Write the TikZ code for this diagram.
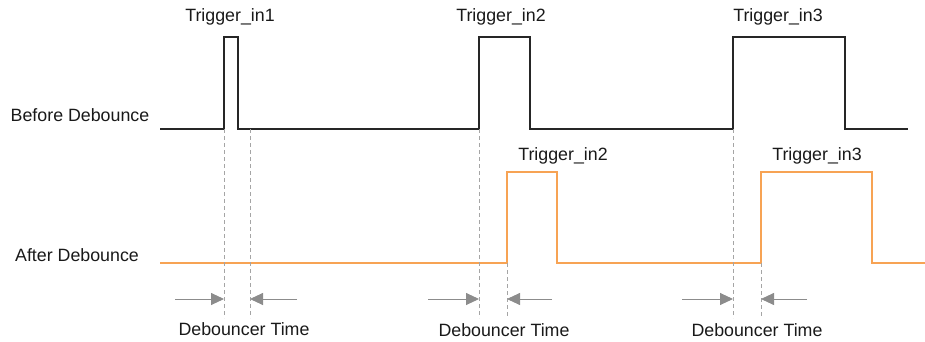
\documentclass[tikz,border=0pt]{standalone}
\usepackage{fontspec}
\setmainfont{Liberation Sans}
\usepackage{tikz}
\usetikzlibrary{arrows.meta, positioning, calc}
\definecolor{waveorange}{RGB}{247, 163, 84}
\definecolor{guidegray}{RGB}{165, 165, 165}
\definecolor{arrowgray}{RGB}{140, 140, 140}

\begin{document}
\begin{tikzpicture}[
			x=1pt, y=-1pt,
			label/.style={inner sep=0pt, font=\fontsize{17.8}{20}\selectfont, text=black!90},
			before/.style={line width=1.1pt, black!85},
			after/.style={line width=1.3pt, waveorange},
			guide/.style={dash pattern=on 4pt off 3pt, guidegray, line width=0.9pt},
			arrow/.style={-{Triangle[length=13pt, width=12pt]}, arrowgray, line width=0.9pt}
		]
		\useasboundingbox (0,0) rectangle (925,342);
		
		% Signal names
		\node[label] (before) at (80,115) {Before Debounce};
		\node[label] (after) at (77,255) {After Debounce};
		
		% Before debounce waveform
		\coordinate (b0) at (160,129);
		\coordinate (r1) at (224,129);
		\coordinate (f1) at (238,129);
		\coordinate (r2) at (479,129);
		\coordinate (f2) at (530,129);
		\coordinate (r3) at (733,129);
		\coordinate (f3) at (845,129);
		\coordinate (b1) at (908,129);
		\draw[before] (b0) -- (r1) -- ++(0,-92) -| (f1) -- (r2) -- ++(0,-92) -| (f2)
			-- (r3) -- ++(0,-92) -| (f3) -- (b1);
		
		% After debounce waveform
		\coordinate (a0) at (160,263);
		\coordinate (d1) at (250,263);
		\coordinate (s2) at (507,263);
		\coordinate (e2) at (557,263);
		\coordinate (s3) at (761,263);
		\coordinate (e3) at (872,263);
		\coordinate (a1) at (925,263);
		\draw[after] (a0) -- (s2) -- ++(0,-91) -| (e2) -- (s3) -- ++(0,-91) -| (e3) -- (a1);
		
		% Trigger labels
		\node[label] (tin1) at (230,17) {Trigger\_in1};
		\node[label] (tin2) at (501,17) {Trigger\_in2};
		\node[label] (tin3) at (778,17) {Trigger\_in3};
		\node[label] (tout2) at (563,156) {Trigger\_in2};
		\node[label] (tout3) at (817,156) {Trigger\_in3};
		
		% Debouncer time markers
		\coordinate (g1) at (224,318);
		\coordinate (h1) at (250,318);
		\coordinate (g2) at (479,318);
		\coordinate (h2) at (507,318);
		\coordinate (g3) at (733,318);
		\coordinate (h3) at (761,318);
		\coordinate (d1top) at (250,129);
		\draw[guide] (r1) -- (g1);
		\draw[guide] (d1top) -- (h1);
		\draw[guide] (r2) -- (g2);
		\draw[guide] (s2) -- (h2);
		\draw[guide] (r3) -- (g3);
		\draw[guide] (s3) -- (h3);
		
		\coordinate (p1) at (175,299);
		\coordinate (q1) at (297,299);
		\coordinate (p2) at (428,299);
		\coordinate (q2) at (552,299);
		\coordinate (p3) at (682,299);
		\coordinate (q3) at (807,299);
		\draw[arrow] (p1) -- (p1 -| r1);
		\draw[arrow] (q1) -- (q1 -| d1);
		\draw[arrow] (p2) -- (p2 -| r2);
		\draw[arrow] (q2) -- (q2 -| s2);
		\draw[arrow] (p3) -- (p3 -| r3);
		\draw[arrow] (q3) -- (q3 -| s3);
		
		% Labels below
		\node[label] (db1) at (244,329) {Debouncer Time};
		\node[label] (db2) at (504,330) {Debouncer Time};
		\node[label] (db3) at (757,330) {Debouncer Time};
		\end{tikzpicture}
\end{document}
